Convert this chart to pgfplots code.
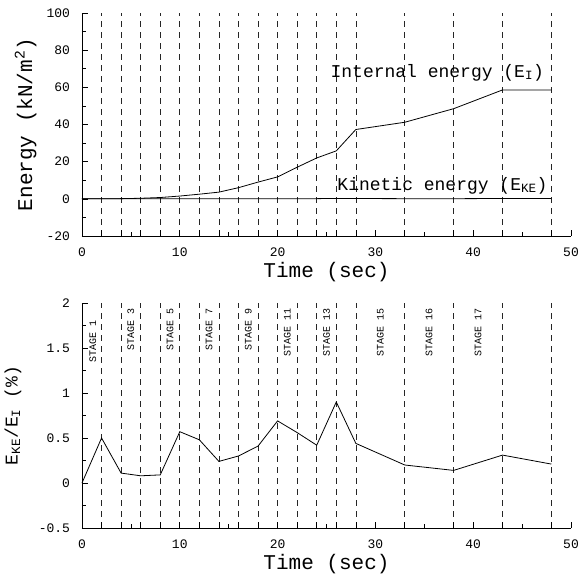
\documentclass[border=0pt]{standalone}
\usepackage{fontspec}
\setmainfont{Liberation Mono}
\usepackage{pgfplots}
\pgfplotsset{compat=1.18}

\pgfplotsset{
  stagestyle/.style={
    scale only axis, width=489pt,
    xmin=0, xmax=50,
    axis x line*=bottom, axis y line*=left,
    axis line style={black, line width=0.8pt},
    tick align=inside,
    major tick length=6pt, minor tick length=4pt,
    tick style={black, line width=0.6pt},
    xtick={0,10,...,50}, minor x tick num=1,
    minor y tick num=1,
    tick label style={font=\fontsize{13}{15}\selectfont},
    xticklabel style={anchor=base, inner sep=0pt, yshift=-20.5pt},
    yticklabel style={anchor=east, xshift=-8.5pt},
    /pgf/number format/assume math mode=true,
    extra x ticks={2,4,6,8,10,12,14,16,18,20,22,24,26,28,33,38,43,48},
    extra x tick labels={},
    extra x tick style={grid=major,
      major grid style={black!85, line width=0.6pt, dash pattern=on 6pt off 5pt}},
    xlabel={Time (sec)},
    xlabel style={font=\fontsize{21}{24}\selectfont, inner sep=0pt,
      at={(axis description cs:0.5,0)}, anchor=base, yshift=-41.5pt},
    clip=false,
  }
}

\begin{document}
\begin{tikzpicture}
\begin{axis}[stagestyle, name=top, height=223pt,
    ymin=-20, ymax=100, ytick={-20,0,...,100},
    ylabel={Energy (kN/m\textsuperscript{2})},
    ylabel style={font=\fontsize{21}{24}\selectfont,
      at={(axis description cs:-0.086,0.5)}, anchor=south},
    at={(0,0)}, anchor=south west]
\addplot[black, line width=0.8pt] coordinates {
  (0,0) (2,0) (4,0.1) (6,0.3) (8,0.7) (10,1.5) (12,2.5) (14,3.6)
  (16,6) (18,9) (20,11.8) (22,17) (24,22) (26,25.8) (28,37.3)
  (33,41.2) (38,48.5) (43,58.6) (48,58.6)
};
\addplot[black, line width=0.8pt] coordinates {
  (0,0) (2,0.0) (4,0.0) (6,0.0) (8,0.0) (10,0.01) (12,0.01) (14,0.01)
  (16,0.02) (18,0.04) (20,0.08) (22,0.09) (24,0.09) (26,0.23) (28,0.17)
  (33,0.08) (38,0.07) (43,0.18) (48,0.13)
};
\node[anchor=base west, inner sep=0pt,
  font=\fontsize{18}{20}\selectfont] at (axis cs:25.4,65.5) {Internal energy (E\textsubscript{I})};
\node[anchor=base west, inner sep=0pt,
  font=\fontsize{18}{20}\selectfont] at (axis cs:26.1,4.6) {Kinetic energy (E\textsubscript{KE})};
\end{axis}

\begin{axis}[stagestyle, name=bot, height=225pt,
    ymin=-0.5, ymax=2, ytick={-0.5,0,0.5,1,1.5,2},
    yticklabel style={/pgf/number format/fixed},
    ylabel={E\textsubscript{KE}/E\textsubscript{I} (\%)},
    ylabel style={font=\fontsize{18}{21}\selectfont,
      at={(axis description cs:-0.117,0.5)}, anchor=south},
    at={(0,-292pt)}, anchor=south west]
\addplot[black, line width=0.8pt] coordinates {
  (0,0) (2,0.5) (4,0.11) (6,0.08) (8,0.09) (10,0.57) (12,0.48) (14,0.24)
  (16,0.3) (18,0.41) (20,0.69) (22,0.56) (24,0.42) (26,0.9) (28,0.44)
  (33,0.2) (38,0.14) (43,0.31) (48,0.21)
};
\foreach \x/\s/\yy in {1.1/1/1.81, 5/3/1.95, 9/5/1.95, 13/7/1.95, 17/9/1.95,
    21/11/1.95, 25/13/1.95, 30.5/15/1.95, 35.5/16/1.95, 40.5/17/1.95} {
  \edef\temp{\noexpand\node[rotate=90, anchor=east, fill=white, inner sep=0.5pt,
    font=\noexpand\fontsize{10}{12}\noexpand\selectfont] at (axis cs:\x,\yy) {STAGE \s};}
  \temp
}
\end{axis}
\path (top.north west) ++(-82pt,13pt) coordinate (bbA);
\path (bot.south east) ++(13pt,-46pt) coordinate (bbB);
\path (bbA) (bbB);
\end{tikzpicture}
\end{document}
